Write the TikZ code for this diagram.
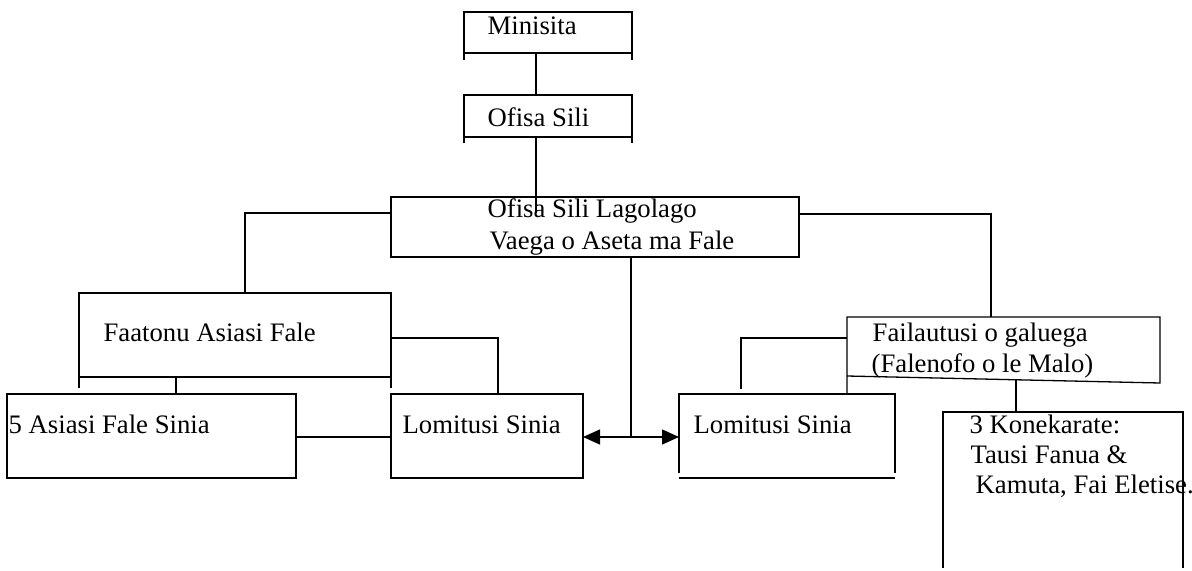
\documentclass[tikz,border=0pt]{standalone}
\usepackage{fontspec}
\setmainfont{Liberation Serif}
\usetikzlibrary{arrows.meta,fit}
\begin{document}
\begin{tikzpicture}[x=0.5pt,y=-0.5pt,
  line width=0.65pt,
  lbl/.style={anchor=base west,inner sep=0pt,font=\fontsize{13.35}{15}\selectfont},
  frame/.style={inner sep=0pt,outer sep=0pt,draw=none,rectangle},
  arr/.style={-{Triangle[length=8.5pt,width=7.5pt]}}]
\useasboundingbox (0,0) rectangle (1192,571);

% box frames
\node[frame,fit={(464,12) (632,53)}] (min) {};
\node[frame,fit={(464,95) (632,137)}] (osili) {};
\node[frame,fit={(391,197) (799,257)}] (big) {};
\node[frame,fit={(79,293) (391,377)}] (faat) {};
\node[frame,fit={(7,394) (296,478)}] (asi5) {};
\node[frame,fit={(391,394) (583,478)}] (lomL) {};
\node[frame,fit={(679,394) (895,478)}] (lomR) {};
\node[frame,fit={(847,317) (1160,383)}] (fail) {};
\node[frame,fit={(943,412) (1183,568)}] (kon) {};

% outlines
\draw (min.west |- 0,60) -- (min.north west) -- (min.north east) -- (min.east |- 0,60);
\draw (min.south west) -- (min.south east);
\draw (osili.west |- 0,143) -- (osili.north west) -- (osili.north east) -- (osili.east |- 0,143);
\draw (osili.south west) -- (osili.south east);
\draw (big.north west) rectangle (big.south east);
\draw (faat.west |- 0,388) -- (faat.north west) -- (faat.north east) -- (faat.east |- 0,388);
\draw (faat.south west) -- (faat.south east);
\draw (asi5.north west) rectangle (asi5.south east);
\draw (lomL.north west) rectangle (lomL.south east);
\draw (lomR.west |- 0,473) -- (lomR.north west) -- (lomR.north east) -- (lomR.east |- 0,473);
\draw (lomR.south west) -- (lomR.south east);
\draw (fail.west |- lomR.north) -- (fail.north west) -- (fail.north east) -- (fail.south east) -- (fail.west |- 0,376);
\draw (kon.south west) -- (kon.north west) -- (kon.north east) -- (kon.south east);

% texts
\node[lbl] (tmin) at (487,35) {Minisita};
\node[lbl] (tosili) at (487,127) {Ofisa Sili};
\node[lbl] (tbig1) at (487,218) {Ofisa Sili Lagolago};
\node[lbl] (tbig2) at (489,250) {Vaega o Aseta ma Fale};
\node[lbl] (tfaat) at (103,342) {Faatonu Asiasi Fale};
\node[lbl] (tasi5) at (8,433) {5 Asiasi Fale Sinia};
\node[lbl] (tlomL) at (402,433) {Lomitusi Sinia};
\node[lbl] (tlomR) at (693,433) {Lomitusi Sinia};
\node[lbl] (tfail1) at (872,342) {Failautusi o galuega};
\node[lbl] (tfail2) at (871,372) {(Falenofo o le Malo)};
\node[lbl] (tkon1) at (969,433) {3 Konekarate:};
\node[lbl] (tkon2) at (970,463) {Tausi Fanua \&};
\node[lbl] (tkon3) at (975,493) {Kamuta, Fai Eletise.};

% connectors
\draw (536,0 |- min.south) -- (536,0 |- osili.north);
\draw (536,0 |- osili.south) -- (536,213);
\draw (big.west |- 0,213) -| (245,0 |- faat.north);
\draw (big.east |- 0,214) -| (991,0 |- fail.north);
\draw (631,0 |- big.south) -- (631,437) coordinate (j);
\draw[arr] (j) -- (lomL.east |- j);
\draw[arr] (j) -- (lomR.west |- j);
\draw (faat.east |- 0,338) -| (498,0 |- lomL.north);
\draw (176,0 |- faat.south) -- (176,0 |- asi5.north);
\draw (asi5.east |- 0,437) -- (lomL.west |- 0,437);
\draw (fail.west |- 0,338) -| (741,389);
\draw (1016,380) -- (1016,0 |- kon.north);
\end{tikzpicture}
\end{document}
